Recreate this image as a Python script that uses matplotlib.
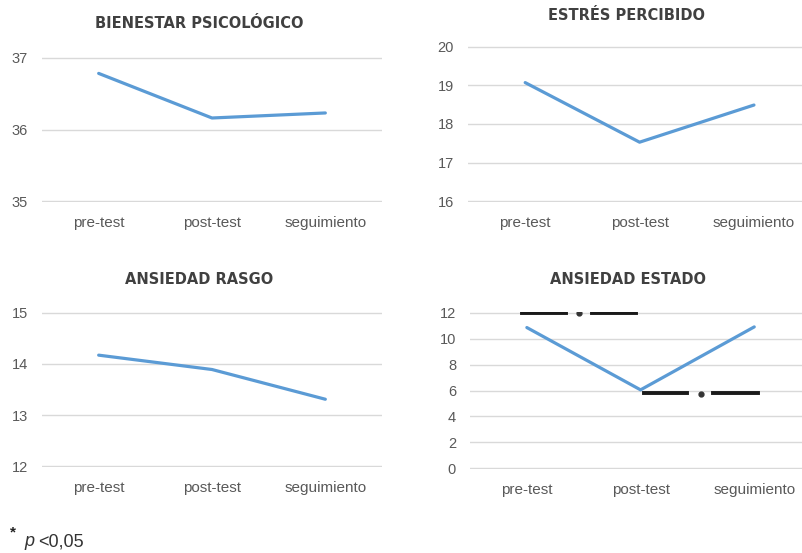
import matplotlib.pyplot as plt

momentos = ["pre-test", "post-test", "seguimiento"]

bienestar = [36.78, 36.16, 36.23]
estres = [19.07, 17.53, 18.49]
rasgo = [14.17, 13.89, 13.31]
estado = [10.85, 6.05, 10.9]

titulos = ["BIENESTAR PSICOLÓGICO", "ESTRÉS PERCIBIDO", "ANSIEDAD RASGO", "ANSIEDAD ESTADO"]
series = [bienestar, estres, rasgo, estado]
yticks = [[35, 36, 37], [16, 17, 18, 19, 20], [12, 13, 14, 15], [0, 2, 4, 6, 8, 10, 12]]

# comparaciones significativas en ANSIEDAD ESTADO: (desde, hasta, altura)
sig_pares = [(0, 1, 12.0), (1, 2, 5.8)]

plt.rcParams['font.family'] = ['Liberation Sans', 'DejaVu Sans']

W, H = 802, 553
fig = plt.figure(figsize=(W / 100, H / 100), dpi=100)

# posiciones en pixeles: izquierda, arriba, derecha, abajo
cajas = [(42, 57, 382, 202), (468, 46, 802, 202), (42, 312, 382, 467), (470, 312, 802, 469)]
xmax = [2.5, 2.42, 2.5, 2.42]
pos_titulos = [(199, 23), (627, 15), (199, 280), (628, 279)]

gris = "#595959"
azul = "#5B9BD5"

for i in range(4):
    l, t, r, b = cajas[i]
    ax = fig.add_axes([l / W, 1 - b / H, (r - l) / W, (b - t) / H])
    ax.plot(range(3), series[i], color=azul, linewidth=2.3, solid_capstyle="round", zorder=3)
    ax.set_xlim(-0.5, xmax[i])
    rango = yticks[i][-1] - yticks[i][0]
    ax.set_ylim(yticks[i][0] - rango * 0.004, yticks[i][-1] + rango * 0.004)
    ax.set_yticks(yticks[i])
    ax.set_xticks(range(3))
    ax.set_xticklabels(momentos)
    ax.grid(axis="y", color="#d9d9d9", linewidth=1)
    ax.set_axisbelow(True)
    for s in ax.spines.values():
        s.set_visible(False)
    ax.tick_params(length=0, labelsize=10.5, labelcolor=gris)
    ax.tick_params(axis="x", pad=10, labelsize=11)
    ax.tick_params(axis="y", pad=10)
    ax.patch.set_alpha(0)
    tx, ty = pos_titulos[i]
    fig.text(tx / W, 1 - ty / H, titulos[i], ha="center", va="center",
             fontsize=10.5, fontweight="bold", color="#404040", family="DejaVu Sans")
    if i == 3:
        desplaz = [-0.04, 0.03]
        for (a, c, y), d in zip(sig_pares, desplaz):
            a = a + d
            c = c + d
            m = (a + c) / 2
            ax.plot([a, m - 0.12], [y, y], color="#1a1a1a", linewidth=2.8, zorder=4)
            ax.plot([m + 0.11, c], [y, y], color="#1a1a1a", linewidth=2.8, zorder=4)
            ax.plot([m], [y - 0.05], marker="o", markersize=3.5, color="#333333", zorder=4)

fig.text(10 / W, 1 - 532 / H, "*", fontsize=11, fontweight="bold", color="#222222", va="center")
fig.text(24 / W, 1 - 542 / H, "p", fontsize=13, style="italic", color="#333333", va="center")
fig.text(38 / W, 1 - 542 / H, "<0,05", fontsize=13, color="#333333", va="center")

fig.savefig("out.png", dpi=100)
